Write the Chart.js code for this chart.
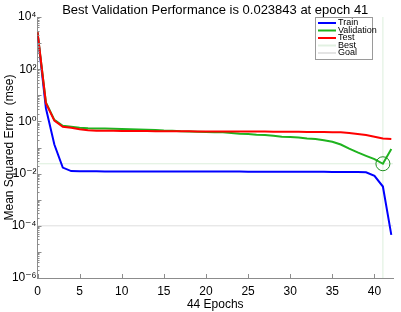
<!DOCTYPE html>
<html>
<head>
<meta charset="utf-8">
<script src="https://cdn.jsdelivr.net/npm/chart.js@4.4.1/dist/chart.umd.min.js"></script>
<style>
  html, body { margin: 0; padding: 0; background: #fff; }
</style>
</head>
<body>
<canvas id="chart" width="401" height="312"></canvas>
<script>
// epochs 0..42
let epochs = [0, 1, 2, 3, 4, 5, 6, 7, 8, 9, 10, 11, 12, 13, 14, 15, 16, 17, 18, 19, 20,
  21, 22, 23, 24, 25, 26, 27, 28, 29, 30, 31, 32, 33, 34, 35, 36, 37, 38, 39, 40, 41, 42];

let trainPerf = [2500, 3.2, 0.13, 0.017, 0.0125, 0.0123, 0.0122, 0.0122, 0.0121, 0.0121, 0.0121,
  0.0121, 0.012, 0.012, 0.012, 0.012, 0.012, 0.012, 0.012, 0.012, 0.012,
  0.012, 0.012, 0.012, 0.012, 0.0119, 0.0119, 0.0119, 0.0118, 0.0118, 0.0118,
  0.0118, 0.0117, 0.0117, 0.0117, 0.0116, 0.0116, 0.0116, 0.0115, 0.0112, 0.0082, 0.0032, 0.000045];

let valPerf = [2600, 5.3, 1.15, 0.68, 0.62, 0.57, 0.55, 0.54, 0.53, 0.52, 0.51,
  0.5, 0.49, 0.48, 0.47, 0.45, 0.44, 0.42, 0.41, 0.4, 0.39,
  0.385, 0.38, 0.36, 0.34, 0.33, 0.31, 0.3, 0.28, 0.26, 0.25,
  0.24, 0.22, 0.21, 0.19, 0.165, 0.13, 0.09, 0.065, 0.048, 0.036, 0.023843, 0.088];

let testPerf = [2700, 5.0, 1.07, 0.62, 0.57, 0.5, 0.46, 0.44, 0.437, 0.434, 0.432,
  0.43, 0.428, 0.426, 0.424, 0.422, 0.42, 0.418, 0.416, 0.414, 0.412,
  0.411, 0.41, 0.41, 0.409, 0.408, 0.407, 0.406, 0.405, 0.403, 0.4,
  0.398, 0.396, 0.394, 0.39, 0.385, 0.38, 0.36, 0.33, 0.3, 0.26, 0.22, 0.21];

let bestEpoch = 41;
let bestPerf = 0.023843;
let goalPerf = 0.0001;

let titleText = 'Best Validation Performance is 0.023843 at epoch 41';
let xTicks = [0, 5, 10, 15, 20, 25, 30, 35, 40];
let yPowers = [-6, -5, -4, -3, -2, -1, 0, 1, 2, 3, 4];

let legendNames = ['Train', 'Validation', 'Test', 'Best', 'Goal'];
let legendColors = ['#0000ff', '#1fb31f', '#ff0000', '#e2f1e2', '#e4e4e4'];

let axisColor = '#8c8c8c';
let fontFamily = "'Liberation Sans', Arial, 'DejaVu Sans', sans-serif";

let sup = { '-': '⁻', '0': '⁰', '1': '¹', '2': '²', '3': '³', '4': '⁴', '5': '⁵', '6': '⁶', '7': '⁷', '8': '⁸', '9': '⁹' };
let powLabel = (p) => '10' + String(p).split('').map(c => sup[c]).join('');

let toPoints = (arr) => arr.map((v, i) => ({ x: epochs[i], y: v }));

// ticks drawn inward, like the original
let insideTicks = {
  id: 'insideTicks',
  afterDatasetsDraw(chart) {
    let ctx = chart.ctx, area = chart.chartArea;
    let xs = chart.scales.x, ys = chart.scales.y;
    ctx.save();
    ctx.strokeStyle = axisColor;
    ctx.lineWidth = 1;
    ctx.beginPath();
    for (let v of xTicks) {
      let px = Math.round(xs.getPixelForValue(v)) + 0.5;
      ctx.moveTo(px, area.bottom);
      ctx.lineTo(px, area.bottom - 4);
    }
    for (let p of yPowers) {
      for (let m = 1; m <= 9; m++) {
        let v = m * Math.pow(10, p);
        if (v > 1e4 * 1.0001) break;
        let py = Math.round(ys.getPixelForValue(v)) + 0.5;
        ctx.moveTo(area.left, py);
        ctx.lineTo(area.left + (m === 1 ? 4 : 2), py);
      }
    }
    ctx.stroke();
    ctx.restore();
  }
};

// title centred over the plot area, as in the original
let plotTitle = {
  id: 'plotTitle',
  afterDraw(chart) {
    let ctx = chart.ctx, area = chart.chartArea;
    ctx.save();
    ctx.font = '13px ' + fontFamily;
    ctx.fillStyle = '#000';
    ctx.textAlign = 'center';
    ctx.textBaseline = 'middle';
    ctx.fillText(titleText, (area.left + area.right) / 2, 10);
    ctx.restore();
  }
};

let boxLegend = {
  id: 'boxLegend',
  afterDraw(chart) {
    let ctx = chart.ctx, area = chart.chartArea;
    let left = area.right - 78, top = area.top;
    let w = 57, h = 42;
    ctx.save();
    ctx.fillStyle = '#fff';
    ctx.fillRect(left, top, w, h);
    ctx.strokeStyle = '#9a9a9a';
    ctx.lineWidth = 1;
    ctx.strokeRect(left + 0.5, top + 0.5, w, h);
    ctx.font = '9px ' + fontFamily;
    ctx.textBaseline = 'middle';
    ctx.fillStyle = '#000';
    legendNames.forEach((name, i) => {
      let y = top + 6 + i * 7.5;
      ctx.strokeStyle = legendColors[i];
      ctx.lineWidth = 2;
      ctx.beginPath();
      ctx.moveTo(left + 3, y);
      ctx.lineTo(left + 21, y);
      ctx.stroke();
      ctx.fillText(name, left + 23, y);
    });
    ctx.restore();
  }
};

let ctx = document.querySelector('#chart').getContext('2d');
const chart = new Chart(ctx, {
  type: 'line',
  data: {
    datasets: [
      { label: 'Train', data: toPoints(trainPerf), borderColor: legendColors[0], borderWidth: 2, order: 3 },
      { label: 'Validation', data: toPoints(valPerf), borderColor: legendColors[1], borderWidth: 2, order: 2 },
      { label: 'Test', data: toPoints(testPerf), borderColor: legendColors[2], borderWidth: 2, order: 1 },
      { label: 'Best', data: [{ x: bestEpoch, y: 1e-6 }, { x: bestEpoch, y: 1e4 }], borderColor: '#dcefdc', borderWidth: 1, order: 9 },
      { label: 'Best', data: [{ x: 0, y: bestPerf }, { x: 42.2, y: bestPerf }], borderColor: '#dcefdc', borderWidth: 1, order: 9 },
      { label: 'Goal', data: [{ x: 0, y: goalPerf }, { x: 42.2, y: goalPerf }], borderColor: '#dedede', borderWidth: 1, order: 9 },
      { label: 'BestPoint', data: [{ x: bestEpoch, y: bestPerf }], showLine: false, pointRadius: 7,
        pointBorderColor: '#1e8f1e', pointBorderWidth: 1, pointBackgroundColor: 'rgba(0,0,0,0)', order: 0 }
    ]
  },
  options: {
    responsive: false,
    devicePixelRatio: 1,
    animation: false,
    layout: { padding: { left: 2, right: 3, top: 17, bottom: 0 } },
    elements: { point: { radius: 0 }, line: { tension: 0 } },
    plugins: {
      legend: { display: false },
      tooltip: { enabled: false },
      title: { display: false }
    },
    scales: {
      x: {
        type: 'linear',
        min: 0,
        max: 42.2,
        afterBuildTicks: (scale) => { scale.ticks = xTicks.map(v => ({ value: v })); },
        afterFit: (scale) => { scale.height = 34; },
        grid: { display: true, drawOnChartArea: false, drawTicks: false },
        border: { display: true, color: axisColor },
        ticks: { color: '#000', font: { family: fontFamily, size: 12 }, padding: 6, maxRotation: 0 },
        title: { display: true, text: '44 Epochs', color: '#000', font: { family: fontFamily, size: 12 }, padding: { top: 1, bottom: 0 } }
      },
      y: {
        type: 'logarithmic',
        min: 1e-6,
        max: 1e4,
        afterBuildTicks: (scale) => { scale.ticks = yPowers.map(p => ({ value: Math.pow(10, p) })); },
        afterFit: (scale) => { scale.width = 35.5; },
        grid: { display: true, drawOnChartArea: false, drawTicks: false },
        border: { display: true, color: axisColor },
        ticks: {
          color: '#000',
          font: { family: fontFamily, size: 12 },
          padding: 1,
          callback: (value) => {
            let p = Math.round(Math.log10(value));
            return p % 2 === 0 ? powLabel(p) : '';
          }
        },
        title: { display: true, text: 'Mean Squared Error  (mse)', color: '#000', font: { family: fontFamily, size: 12 }, padding: { top: 0, bottom: 0 } }
      }
    }
  },
  plugins: [insideTicks, plotTitle, boxLegend]
});
</script>
</body>
</html>
